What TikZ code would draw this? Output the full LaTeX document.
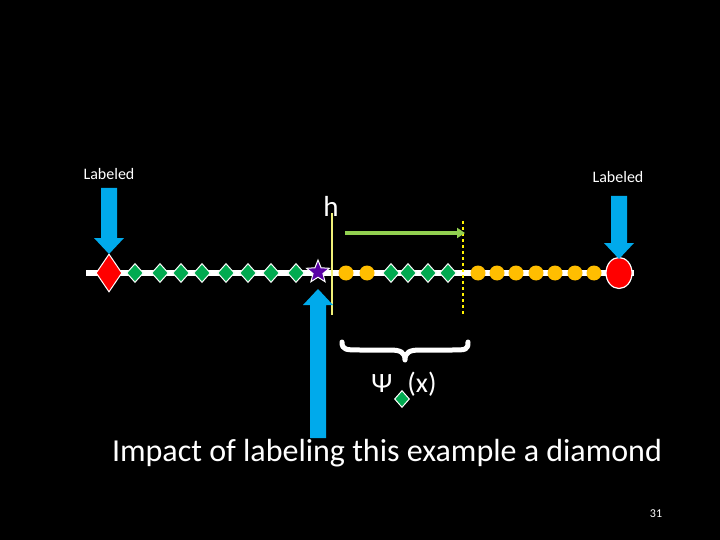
\documentclass[tikz,border=0pt]{standalone}
\usepackage{fontspec}
\setmainfont{Carlito}
\usetikzlibrary{arrows.meta,shapes.geometric}
\definecolor{gd}{RGB}{0,170,80}
\definecolor{og}{RGB}{255,190,0}
\definecolor{bl}{RGB}{0,170,235}
\definecolor{yl}{RGB}{240,240,120}
\definecolor{ga}{RGB}{146,208,80}
\tikzset{
 gdia/.style={diamond,fill=gd,draw=white,line width=1pt,minimum width=17pt,minimum height=19pt,inner sep=0pt},
 ocirc/.style={circle,fill=og,minimum size=15pt,inner sep=0pt},
 bfill/.style={fill=bl},
}
\begin{document}
\begin{tikzpicture}[x=1pt,y=-1pt]
\fill[black] (0,0) rectangle (720,540);
\coordinate (L) at (86,273); \coordinate (R) at (634,273);
\draw[white,line width=6pt] (L) -- (R);
\node[diamond,fill=red,draw=white,line width=1pt,minimum width=26pt,minimum height=38pt,inner sep=0pt] (rd) at (109,273) {};
\foreach \x [count=\i] in {135,160,181,202,226,248,271,296,391,408,428,448}{\node[gdia] (g\i) at (\x,273) {};}
\foreach \x [count=\i] in {346,367,478,497,516,536,555,575,594}{\node[ocirc] (o\i) at (\x,273) {};}
\node[ellipse,fill=red,draw=white,line width=1.2pt,minimum width=26pt,minimum height=31pt,inner sep=0pt] (rc) at (619,273) {};
\node[star,star points=5,star point ratio=2.3,fill=violet!70!blue,draw=white,line width=1pt,minimum size=24pt,inner sep=0pt] (st) at (318,272) {};
\coordinate (y1) at (332,213); \coordinate (y2) at (332,315);
\draw[yl,line width=1.2pt] (y1) -- (y2);
\coordinate (d1) at (463,221); \coordinate (d2) at (463,315);
\draw[yellow,line width=1.2pt,dashed] (d1) -- (d2);
\coordinate (a1) at (345,233); \coordinate (a2) at (465,233);
\draw[ga,line width=3pt,-{Triangle[length=8pt,width=10pt]}] (a1) -- (a2);
% blue arrows
\fill[bfill] (101,188) -- (117,188) -- (117,238) -- (124,238) -- (109,254) -- (94,238) -- (101,238) -- cycle;
\fill[bfill] (611,196) -- (627,196) -- (627,243) -- (634,243) -- (619,259) -- (604,243) -- (611,243) -- cycle;
\fill[bfill] (310,438) -- (326,438) -- (326,305) -- (333,305) -- (318,289) -- (303,305) -- (310,305) -- cycle;
% brace
\draw[white,line width=5pt,line cap=round,line join=round] (342,342) .. controls (342,350) and (346,350) .. (360,350) -- (390,350) .. controls (400,350) and (405,352) .. (405,360) .. controls (405,352) and (410,350) .. (420,350) -- (452,350) .. controls (466,350) and (468,350) .. (468,342);
\node[white,font=\fontsize{16}{18}\selectfont] (lab1) at (109,174) {Labeled};
\node[white,font=\fontsize{16}{18}\selectfont] (lab2) at (618,177) {Labeled};
\node[white,font=\fontsize{29}{30}\selectfont] (h) at (331,206) {h};
\node[white,font=\fontsize{28}{30}\selectfont] (psi) at (404,384) {Ψ\hspace{15pt}(x)};
\node[gdia,minimum width=15pt,minimum height=17pt] (sd) at (402,399) {};
\node[white,font=\fontsize{32}{36}\selectfont] (title) at (387,453) {Impact of labeling this example a diamond};
\node[white,font=\fontsize{12}{14}\selectfont] (pg) at (656,514) {31};
\end{tikzpicture}
\end{document}
